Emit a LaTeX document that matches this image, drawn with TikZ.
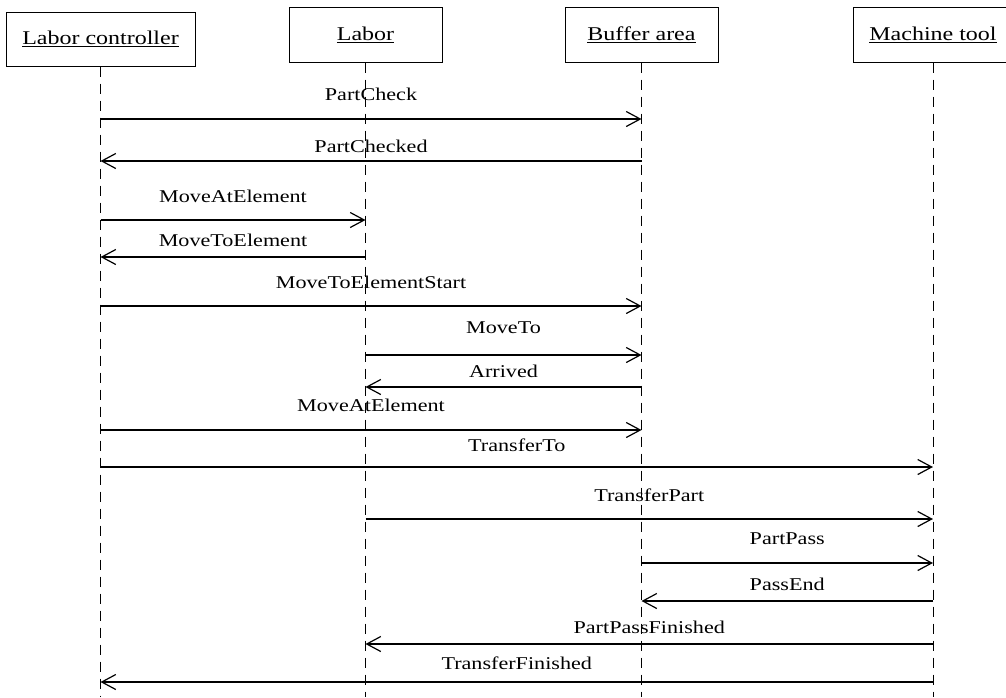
\documentclass[tikz,border=0pt]{standalone}
\usepackage{fontspec}
\setmainfont[FakeStretch=1.23]{Liberation Serif}
\usetikzlibrary{arrows.meta}
\begin{document}
\begin{tikzpicture}[x=1pt,y=-1pt,
  obj/.style={draw, line width=1pt, rectangle, inner sep=0pt, font=\fontsize{19.5}{22}\selectfont},
  life/.style={line width=0.9pt, dash pattern=on 10pt off 7pt},
  msg/.style={line width=1.2pt, -{Straight Barb[length=14pt,width=15pt,line width=1.2pt]}},
  lbl/.style={font=\fontsize{18}{21}\selectfont, inner sep=0pt, anchor=base}]
\useasboundingbox (0,0) rectangle (1006,697);
\node[obj, minimum width=189pt, minimum height=54pt] (lc) at (100.5,39) {\underline{Labor controller}};
\node[obj, minimum width=153pt, minimum height=55pt] (lab) at (365.5,34.5) {\underline{Labor}};
\node[obj, minimum width=153pt, minimum height=55pt] (buf) at (641.5,34.5) {\underline{Buffer area}};
\node[obj, minimum width=160pt, minimum height=55pt] (mt) at (933,34.5) {\underline{Machine tool}};
\coordinate (bot) at (0,697);
\foreach \n in {lc,lab,buf,mt}
  \draw[life] (\n.south) -- (\n.south |- bot);
\foreach \a/\b/\y/\t/\ty [count=\i] in {
  lc/buf/119/PartCheck/100,
  buf/lc/161/PartChecked/152,
  lc/lab/220/MoveAtElement/202,
  lab/lc/257/MoveToElement/246,
  lc/buf/306/MoveToElementStart/288,
  lab/buf/355/MoveTo/333,
  buf/lab/387/Arrived/377,
  lc/buf/430/MoveAtElement/411,
  lc/mt/467/TransferTo/451,
  lab/mt/519/TransferPart/501,
  buf/mt/563/PartPass/544,
  mt/buf/601/PassEnd/590,
  mt/lab/644/PartPassFinished/633,
  mt/lc/682/TransferFinished/669}
{
  \coordinate (h\i) at (0,\y);
  \coordinate (t\i) at (0,\ty);
  \draw[msg] (\a.south |- h\i) -- (\b.south |- h\i);
  \path (\a.south |- t\i) -- (\b.south |- t\i) node[lbl, midway] (m\i) {\t};
}
\end{tikzpicture}
\end{document}
